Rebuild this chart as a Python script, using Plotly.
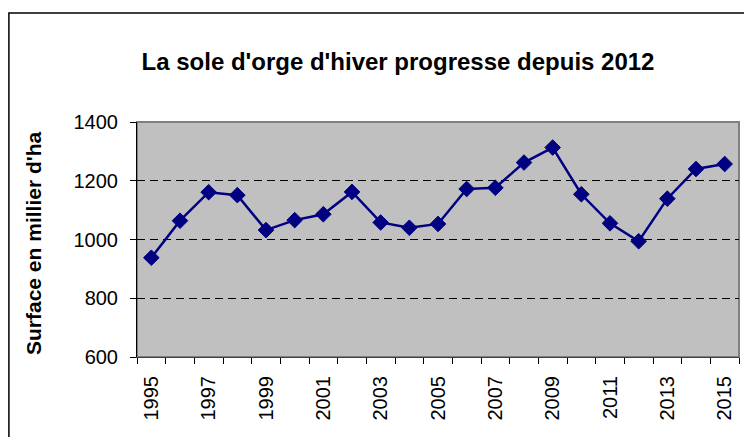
import plotly.graph_objects as go

years = list(range(1995, 2016))
surface = [938, 1064, 1161, 1151, 1032, 1066, 1086, 1162, 1058, 1040, 1053,
           1172, 1176, 1262, 1313, 1154, 1055, 994, 1139, 1240, 1257]
tick_years = list(range(1995, 2016, 2))
y_ticks = [600, 800, 1000, 1200, 1400]

title_text = "La sole d'orge d'hiver progresse depuis 2012"
y_title = "Surface en millier d'ha"

# page has an 8px body margin; lay the figure out so that it fits the window
OFF = 8
W, H = 752 - OFF, 437 - OFF
ML, MR, MT, MB = 137 - OFF, 13, 122 - OFF, 80
PW, PH = W - ML - MR, H - MT - MB

def px_x(p):
    return (p - OFF - ML) / PW

def px_y(p):
    return (H - MB - (p - OFF)) / PH

font = "Liberation Sans, Arial, sans-serif"

fig = go.Figure()
fig.add_trace(go.Scatter(
    x=years, y=surface, mode="lines+markers",
    line=dict(color="#000080", width=2.5),
    marker=dict(symbol="diamond", size=12, color="#000080",
                line=dict(color="#000080", width=1)),
    showlegend=False, hoverinfo="x+y",
))

fig.update_layout(
    width=W, height=H,
    margin=dict(l=ML, r=MR, t=MT, b=MB),
    paper_bgcolor="white", plot_bgcolor="#C0C0C0",
    font=dict(family=font, color="black"),
    title=dict(text="<b>" + title_text + "</b>", font=dict(size=24, family=font),
               xref="paper", x=px_x(398), xanchor="center",
               yref="container", y=1 - (62 - OFF) / H, yanchor="middle"),
    xaxis=dict(range=[1994.5, 2015.5], tickmode="array", tickvals=tick_years,
               ticktext=[str(y) for y in tick_years], tickangle=-90,
               ticks="", showgrid=False, zeroline=False,
               showline=True, linecolor="#404040", linewidth=1,
               tickfont=dict(size=20, family=font), ticklabelstandoff=10,
               minor=dict(tick0=1994.5, dtick=1, ticks="outside", ticklen=6,
                          tickcolor="black", tickwidth=1, showgrid=False)),
    yaxis=dict(range=[600, 1400], tickmode="array", tickvals=y_ticks,
               ticks="outside", ticklen=6, tickcolor="black",
               showgrid=True, gridcolor="black", gridwidth=1, griddash="8px,5px",
               zeroline=False, showline=True, linecolor="black", linewidth=1,
               tickfont=dict(size=20, family=font), ticklabelstandoff=8),
    shapes=[
        dict(type="rect", xref="x domain", yref="y domain", x0=0, x1=1, y0=0, y1=1,
             line=dict(color="#808080", width=2), layer="below"),
        dict(type="rect", xref="paper", yref="paper",
             x0=px_x(8.9), x1=px_x(780), y0=px_y(470), y1=px_y(13),
             line=dict(color="black", width=1.5)),
    ],
    annotations=[
        dict(text="<b>" + y_title + "</b>", xref="paper", yref="paper",
             x=px_x(33), y=px_y(243), textangle=-90, showarrow=False,
             xanchor="center", yanchor="middle", font=dict(size=21, family=font)),
    ],
)

fig.write_html("out.html")
